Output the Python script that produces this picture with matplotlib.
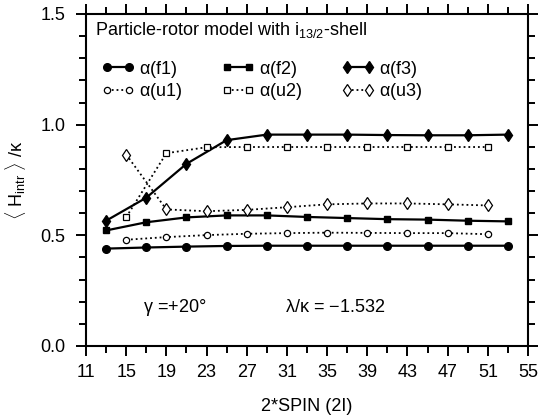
import matplotlib.pyplot as plt
import numpy as np

plt.rcParams['font.family'] = ['Liberation Sans', 'DejaVu Sans']
plt.rcParams['mathtext.fontset'] = 'custom'
plt.rcParams['mathtext.rm'] = 'Liberation Sans'
plt.rcParams['mathtext.it'] = 'Liberation Sans'

# data
spin_f = [13, 17, 21, 25, 29, 33, 37, 41, 45, 49, 53]
spin_u = [15, 19, 23, 27, 31, 35, 39, 43, 47, 51]

f1 = [0.440, 0.445, 0.449, 0.452, 0.453, 0.453, 0.453, 0.453, 0.453, 0.453, 0.453]
f2 = [0.522, 0.559, 0.581, 0.590, 0.590, 0.583, 0.578, 0.573, 0.571, 0.566, 0.563]
f3 = [0.566, 0.670, 0.823, 0.930, 0.955, 0.955, 0.955, 0.953, 0.952, 0.952, 0.955]
u1 = [0.480, 0.492, 0.501, 0.507, 0.510, 0.512, 0.511, 0.510, 0.510, 0.505]
u2 = [0.582, 0.871, 0.898, 0.899, 0.899, 0.899, 0.899, 0.899, 0.899, 0.899]
u3 = [0.865, 0.617, 0.609, 0.615, 0.627, 0.640, 0.644, 0.644, 0.640, 0.635]

fig = plt.figure(figsize=(5.39, 4.2), dpi=100)
ax = fig.add_axes([0.1596, 0.1762, 0.82, 0.7905])

solid = dict(color='black', lw=1.6)
dots = dict(color='black', lw=1.3, mfc='white', mew=0.9)
h_f1, = ax.plot(spin_f, f1, '-', marker='o', ms=5.5, **solid)
h_f2, = ax.plot(spin_f, f2, '-', marker='s', ms=5, **solid)
h_f3, = ax.plot(spin_f, f3, '-', marker='d', ms=6.5, **solid)
h_u1, = ax.plot(spin_u, u1, ':', marker='o', ms=4.5, **dots)
h_u2, = ax.plot(spin_u, u2, ':', marker='s', ms=4.5, **dots)
h_u3, = ax.plot(spin_u, u3, ':', marker='d', ms=6.5, **dots)

ax.set_xlim(11, 55)
ax.set_ylim(0, 1.5)
ax.set_xticks(np.arange(11, 56, 4))
ax.set_xticks(np.arange(13, 55, 4), minor=True)
ax.set_yticks([0.0, 0.5, 1.0, 1.5])
ax.set_yticks(np.arange(0.1, 1.5, 0.1), minor=True)
ax.yaxis.set_major_formatter(plt.FormatStrFormatter('%.1f'))
ax.tick_params(which='both', direction='out', top=True, right=True, width=1.4,
               labelsize=13, colors='black')
ax.tick_params(which='major', length=7)
ax.tick_params(which='minor', length=5)
ax.tick_params(axis='x', which='major', pad=6)
ax.tick_params(axis='y', which='major', pad=8)
for s in ax.spines.values():
    s.set_linewidth(1.5)

ax.set_xlabel('2*SPIN (2I)', fontsize=13, labelpad=12)
ax.set_ylabel(r'$\langle$ H$_{\mathrm{intr}}$ $\rangle$ /$\kappa$', fontsize=13, labelpad=9)

ax.text(0.02, 0.982, r'Particle-rotor model with i$_{13/2}$-shell', transform=ax.transAxes,
        fontsize=13, va='top', ha='left')

handles = [h_f1, h_u1, h_f2, h_u2, h_f3, h_u3]
labels = [r'$\alpha$(f1)', r'$\alpha$(u1)', r'$\alpha$(f2)', r'$\alpha$(u2)',
          r'$\alpha$(f3)', r'$\alpha$(u3)']
ax.legend(handles, labels, ncol=3, loc='upper left', bbox_to_anchor=(0.035, 0.865),
          frameon=False, fontsize=13, numpoints=2, handlelength=1.8, handletextpad=0.25,
          columnspacing=2.2, labelspacing=0.08, borderpad=0, borderaxespad=0)

ax.text(0.129, 0.117, r'$\gamma$ =+20°', transform=ax.transAxes, fontsize=13, va='center')
ax.text(0.45, 0.117, r'$\lambda/\kappa$ = −1.532', transform=ax.transAxes, fontsize=13, va='center')

fig.savefig('out.png', dpi=100)
